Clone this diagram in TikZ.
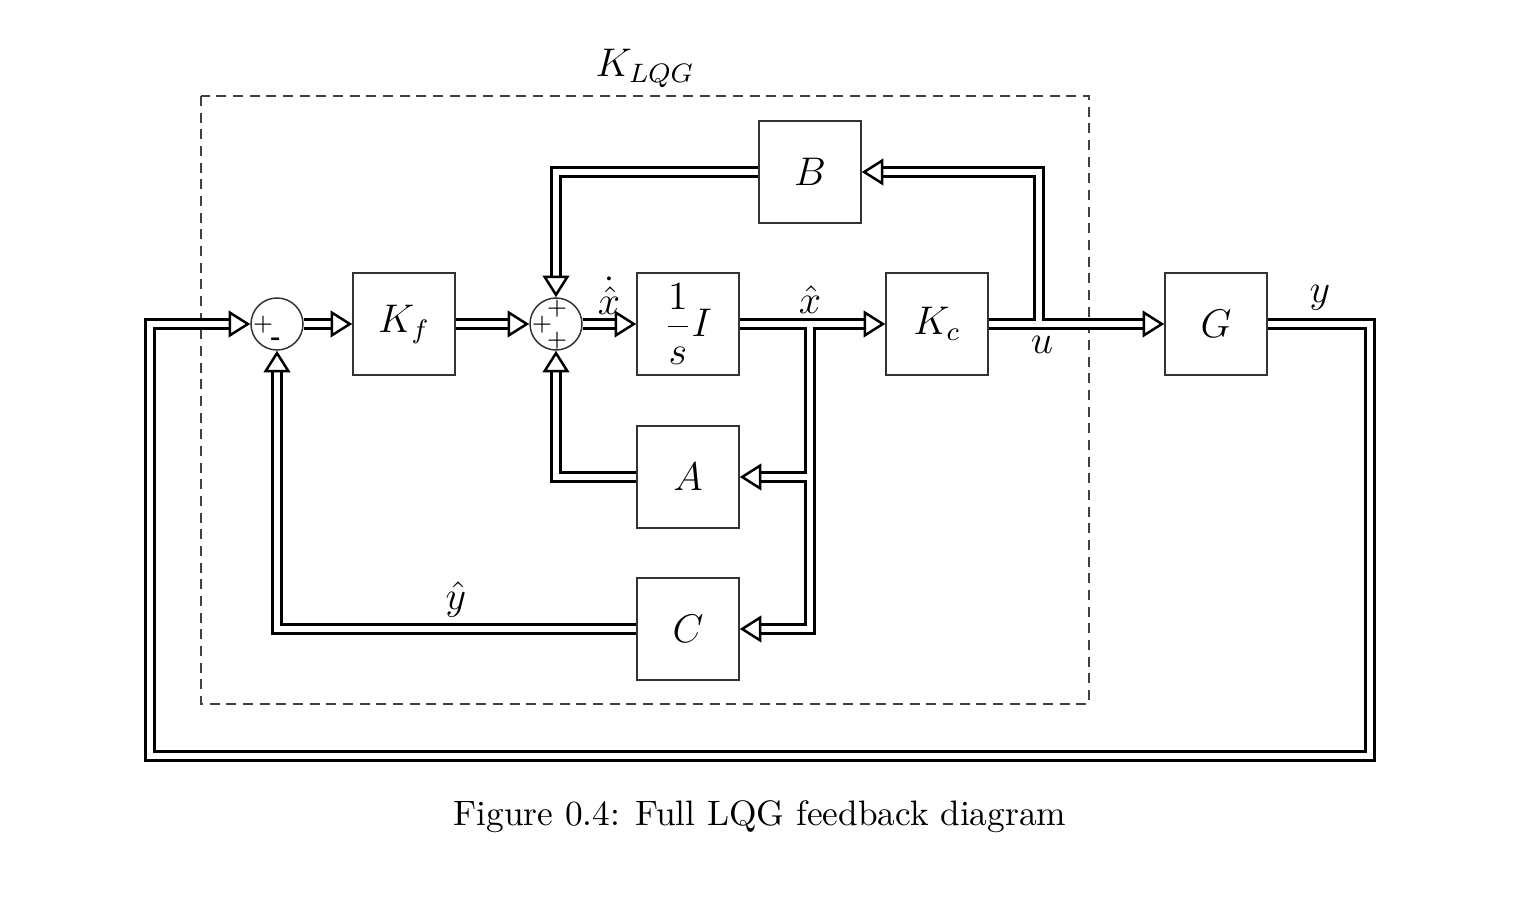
\documentclass[tikz,border=0pt]{standalone}
\usetikzlibrary{arrows.meta,calc}
\begin{document}
\begin{tikzpicture}[x=0.3pt,y=-0.3pt,
  blk/.style={draw=black!80, line width=0.45pt, minimum width=30.6pt, minimum height=30.6pt, inner sep=0pt, font=\fontsize{11.5}{13}\selectfont},
  sumc/.style={draw=black!80, circle, line width=0.45pt, minimum size=15.6pt, inner sep=0pt},
  sgn/.style={inner sep=0pt, font=\scriptsize},
  sig/.style={double=white, double distance=2pt, line width=0.75pt, line join=miter},
  sigarrow/.style={sig, -{Triangle[open, length=6.5pt, width=8pt, line width=0.75pt]}},
  lab/.style={inner sep=0pt, font=\fontsize{11.5}{13}\selectfont},
  frame/.style={dashed, dash pattern=on 3pt off 2pt, draw=black!75, line width=0.4pt}
]
\useasboundingbox (0,0) rectangle (1514,900);
\draw[frame] (201,96) rectangle (1089,704);

\node[blk] (B) at (810,172) {$B$};
\node[blk] (Kf) at (404,324) {$K_f$};
\node[blk] (I) at (688,324) {$\displaystyle\frac{1}{s}I$};
\node[blk] (Kc) at (937,324) {$K_c$};
\node[blk] (G) at (1216,324) {$G$};
\node[blk] (A) at (688,477) {$A$};
\node[blk] (C) at (688,629) {$C$};
\node[sumc] (s1) at (277,324) {};
\node[sumc] (s2) at (556,324) {};

\coordinate (xh) at (810,324);
\coordinate (xa) at (810,477);
\coordinate (xc) at (810,629);
\coordinate (ub) at (1039,324);
\coordinate (ut) at (1039,172);
\coordinate (bl) at (556,172);
\coordinate (al) at (556,477);
\coordinate (cl) at (277,629);
\coordinate (r1) at (1370,324);
\coordinate (r2) at (1370,756);
\coordinate (l2) at (150,756);
\coordinate (l1) at (150,324);

\draw[sigarrow] (s1) -- (Kf);
\draw[sigarrow] (Kf) -- (s2);
\draw[sigarrow] (s2) -- (I);
\draw[sigarrow] (I) -- (Kc);
\draw[sigarrow] (Kc) -- (G);
\draw[sigarrow] (G.east) -- (r1) -- (r2) -- (l2) -- (l1) -- (s1.west);
\draw[sigarrow] ($(ub)+(0,-3.3)$) -- (ut) -- (B.east);
\draw[sigarrow] (B.west) -- (bl) -- (s2.north);
\draw[sigarrow] (A.west) -- (al) -- (s2.south);
\draw[sigarrow] (C.west) -- (cl) -- (s1.south);
\draw[sigarrow] ($(xh)+(0,3.3)$) -- (xa) -- (A.east);
\draw[sigarrow] ($(xa)+(0,3.3)$) -- (xc) -- (C.east);

\node[sgn] (p1) at (263,325) {$+$};
\node[sgn] (m1) at (276,341) {\textbf{-}};
\node[sgn] (p2) at (542,325) {$+$};
\node[sgn] (p3) at (557,309) {$+$};
\node[sgn] (p4) at (557,341) {$+$};

\node[lab] (lxd) at (609,296) {$\dot{\hat{x}}$};
\node[lab] (lxh) at (810,300) {$\hat{x}$};
\node[lab] (lu) at (1042,345) {$u$};
\node[lab] (ly) at (1320,298) {$y$};
\node[lab] (lyh) at (456,600) {$\hat{y}$};
\node[lab] (lk) at (645,68) {$K_{LQG}$};
\node[font=\fontsize{10.6}{13}\selectfont] (cap) at (760,817) {Figure 0.4: Full LQG feedback diagram};
\end{tikzpicture}
\end{document}
